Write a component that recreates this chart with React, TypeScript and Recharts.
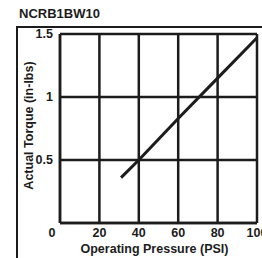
import { LineChart, Line, XAxis, YAxis, CartesianGrid, Label } from 'recharts'

const pressure = [31, 40, 60, 80, 100]
const torque = [0.36, 0.5, 0.83, 1.15, 1.47]
const xTicks = [0, 20, 40, 60, 80, 100]
const yTicks = [0, 0.5, 1, 1.5]
const title = 'NCRB1BW10'
const xTitle = 'Operating Pressure (PSI)'
const yTitle = 'Actual Torque (in-lbs)'

const data = pressure.map((p, i) => ({ p, t: torque[i] }))

const font = '"Liberation Sans", Arial, sans-serif'
const ink = '#1c1c1c'

const XTick = ({ x, y, payload }: any) => (
  <text x={payload.value === 0 ? x - 8 : x} y={y + 6} textAnchor="middle" fontSize={12.5} fontWeight="bold" fill={ink} fontFamily={font}>
    {payload.value}
  </text>
)

const YTick = ({ x, y, payload }: any) => {
  if (payload.value === 0) return null
  return (
    <text x={x + 1} y={y + 4} textAnchor="end" fontSize={12.5} fontWeight="bold" fill={ink} fontFamily={font}>
      {payload.value}
    </text>
  )
}

export default function App() {
  return (
    <div style={{ position: 'absolute', left: 0, top: 0, width: 262, height: 258, background: '#fff', fontFamily: font }}>
      <div style={{ position: 'absolute', left: 19, top: 6, fontSize: 13, fontWeight: 'bold', color: ink, lineHeight: '15px' }}>
        {title}
      </div>
      <div style={{ position: 'absolute', left: 16, top: 26, width: 246, height: 232, borderLeft: `2px solid ${ink}`, borderTop: `2px solid ${ink}` }} />
      <div style={{ position: 'absolute', left: 0, top: 0 }}>
        <LineChart width={262} height={258} data={data} margin={{ top: 34, right: 5, bottom: 0, left: 0 }}>
          <CartesianGrid stroke={ink} strokeWidth={2.5} />
          <XAxis
            dataKey="p"
            type="number"
            domain={[0, 100]}
            ticks={xTicks}
            height={35}
            tickLine={false}
            axisLine={{ stroke: ink, strokeWidth: 2.5 }}
            tick={<XTick />}
            interval={0}
          >
            <Label
              content={({ viewBox }: any) => (
                <text x={viewBox.x + viewBox.width / 2 - 4} y={viewBox.y + 30} textAnchor="middle" fontSize={12.5} fontWeight="bold" fill={ink} fontFamily={font}>
                  {xTitle}
                </text>
              )}
            />
          </XAxis>
          <YAxis
            type="number"
            domain={[0, 1.5]}
            ticks={yTicks}
            width={60}
            tickLine={false}
            axisLine={{ stroke: ink, strokeWidth: 2.5 }}
            tick={<YTick />}
            interval={0}
          >
            <Label
              content={({ viewBox }: any) => {
                const cx = 29
                const cy = viewBox.y + viewBox.height / 2 - 3
                return (
                  <text x={cx} y={cy} transform={`rotate(-90 ${cx} ${cy})`} textAnchor="middle" dominantBaseline="central" fontSize={12.5} fontWeight="bold" fill={ink} fontFamily={font}>
                    {yTitle}
                  </text>
                )
              }}
            />
          </YAxis>
          <Line dataKey="t" stroke={ink} strokeWidth={3} dot={false} isAnimationActive={false} type="linear" />
        </LineChart>
      </div>
    </div>
  )
}
